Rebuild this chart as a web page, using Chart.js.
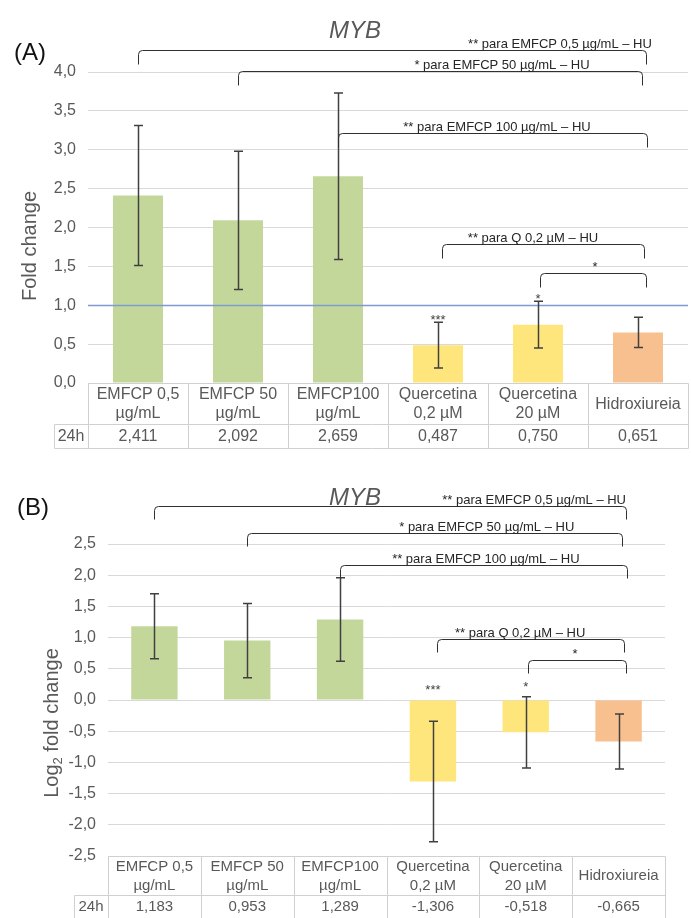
<!DOCTYPE html>
<html>
<head>
<meta charset="utf-8">
<script src="https://cdn.jsdelivr.net/npm/chart.js@4/dist/chart.umd.min.js"></script>
<style>
  html, body { margin: 0; padding: 0; background: #ffffff; }
  body { width: 691px; height: 918px; position: relative; overflow: hidden; }
  canvas { position: absolute; left: 0; }
  #chartA { top: 0; }
  #chartB { top: 460px; }
</style>
</head>
<body>
<canvas id="chartA" width="691" height="455"></canvas>
<canvas id="chartB" width="691" height="458"></canvas>
<script>
// ---- data ----
const categories = [
  ['EMFCP 0,5', 'µg/mL'],
  ['EMFCP 50', 'µg/mL'],
  ['EMFCP100', 'µg/mL'],
  ['Quercetina', '0,2 µM'],
  ['Quercetina', '20 µM'],
  ['Hidroxiureia']
];
const timePoint = '24h';

const foldChange      = [2.411, 2.092, 2.659, 0.487, 0.750, 0.651];
const foldChangeError = [0.90, 0.89, 1.07, 0.295, 0.30, 0.195];

const log2FoldChange      = [1.183, 0.953, 1.289, -1.306, -0.518, -0.665];
const log2FoldChangeError = [0.52, 0.595, 0.67, 0.965, 0.57, 0.44];

// significance versus control, per category
const significance = ['', '', '', '***', '*', ''];

// pairwise comparisons against hydroxyurea (category indices, bracket level in axis units)
const comparisonLabels = [
  '** para EMFCP 0,5 µg/mL – HU',
  '* para EMFCP 50 µg/mL – HU',
  '** para EMFCP 100 µg/mL – HU',
  '** para Q 0,2 µM – HU',
  '*'
];
const comparisonFrom = [0, 1, 2, 3.04, 4.02];
const comparisonTo   = [5.08, 5.04, 5.09, 5.06, 5.08];
const levelsA   = [4.28, 4.01, 3.21, 1.79, 1.42];
const labelAtA  = [4.22, 3.64, 3.59, 3.95, 4.57];
const levelsB   = [3.108, 2.669, 2.159, 0.981, 0.643];
const labelAtB  = [4.09, 3.58, 3.57, 3.94, 4.53];

const axisA = { min: 0, max: 4, step: 0.5 };
const axisB = { min: -2.5, max: 2.5, step: 0.5 };

// ---- styling ----
const FONT = '"Liberation Sans", Arial, sans-serif';
const GREY = '#595959';
const barColors = ['#c4d79b', '#c4d79b', '#c4d79b', '#ffe67c', '#ffe67c', '#f9c08f'];

const fmt = (v, d) => v.toFixed(d).replace('.', ',');

const panelDecor = {
  id: 'panelDecor',
  afterDatasetsDraw(chart, args, o) {
    const { ctx, chartArea: ca } = chart;
    const xs = chart.scales.x, ys = chart.scales.y;
    const meta = chart.getDatasetMeta(0);
    const values = chart.data.datasets[0].data;
    ctx.save();

    // reference line (fold change = 1)
    if (o.refLine !== undefined) {
      const ry = Math.round(ys.getPixelForValue(o.refLine)) + 0.5;
      ctx.strokeStyle = '#7f9ad0';
      ctx.lineWidth = 1.3;
      ctx.beginPath(); ctx.moveTo(ca.left, ry); ctx.lineTo(ca.right, ry); ctx.stroke();
    }

    // error bars
    ctx.strokeStyle = '#404040';
    ctx.lineWidth = 1.5;
    values.forEach((v, i) => {
      const e = o.errors[i];
      const bx = Math.round(meta.data[i].x) + 0.5;
      const yt = ys.getPixelForValue(v + e), yb = ys.getPixelForValue(v - e);
      ctx.beginPath();
      ctx.moveTo(bx, yt); ctx.lineTo(bx, yb);
      ctx.moveTo(bx - 4.5, yt); ctx.lineTo(bx + 4.5, yt);
      ctx.moveTo(bx - 4.5, yb); ctx.lineTo(bx + 4.5, yb);
      ctx.stroke();
    });

    // significance marks over bars
    ctx.fillStyle = '#404040';
    ctx.font = '13px ' + FONT;
    ctx.textAlign = 'center';
    ctx.textBaseline = 'alphabetic';
    values.forEach((v, i) => {
      if (!o.marks[i]) return;
      const top = Math.max(0, v + o.errors[i]);
      const cy = ys.getPixelForValue(top) - o.markGap;
      ctx.fillText(o.marks[i], meta.data[i].x, cy + 7.4);
    });

    // comparison brackets
    ctx.strokeStyle = '#303030';
    ctx.lineWidth = 1;
    ctx.fillStyle = '#262626';
    ctx.font = '13px ' + FONT;
    o.labels.forEach((txt, k) => {
      const x1 = Math.round(xs.getPixelForValue(o.from[k])) + 0.5;
      const x2 = Math.round(xs.getPixelForValue(o.to[k])) + 0.5;
      const yl = Math.round(ys.getPixelForValue(o.levels[k])) + 0.5;
      const drop = o.drop, r = 4;
      ctx.beginPath();
      ctx.moveTo(x1, yl + drop);
      ctx.lineTo(x1, yl + r);
      ctx.quadraticCurveTo(x1, yl, x1 + r, yl);
      ctx.lineTo(x2 - r, yl);
      ctx.quadraticCurveTo(x2, yl, x2, yl + r);
      ctx.lineTo(x2, yl + drop);
      ctx.stroke();
      ctx.textAlign = 'center';
      ctx.fillText(txt, xs.getPixelForValue(o.labelAt[k]), yl - 3);
    });

    // data table under the plot
    const n = values.length;
    const colW = (ca.right - ca.left) / n;
    const t0 = ca.bottom, t1 = t0 + o.row1, t2 = t1 + o.row2;
    const lx = ca.left - o.headW;
    const px = v => Math.round(v) + 0.5;
    ctx.strokeStyle = '#d0d0d0';
    ctx.lineWidth = 1;
    ctx.beginPath();
    ctx.moveTo(px(ca.left), px(t0)); ctx.lineTo(px(ca.right), px(t0));
    ctx.moveTo(px(lx), px(t1)); ctx.lineTo(px(ca.right), px(t1));
    ctx.moveTo(px(lx), px(t2)); ctx.lineTo(px(ca.right), px(t2));
    ctx.moveTo(px(lx), px(t1)); ctx.lineTo(px(lx), px(t2));
    for (let i = 0; i <= n; i++) {
      const cx = px(ca.left + i * colW);
      ctx.moveTo(cx, px(t0)); ctx.lineTo(cx, px(t2));
    }
    ctx.stroke();

    ctx.fillStyle = GREY;
    ctx.font = o.tableFont + 'px ' + FONT;
    ctx.textAlign = 'center';
    ctx.textBaseline = 'middle';
    const rowMid = (t0 + t1) / 2 + 1;
    categories.forEach((lines, i) => {
      const cx = ca.left + (i + 0.5) * colW;
      if (lines.length === 1) {
        ctx.fillText(lines[0], cx, rowMid);
      } else {
        ctx.fillText(lines[0], cx, rowMid - o.lineGap / 2);
        ctx.fillText(lines[1], cx, rowMid + o.lineGap / 2);
      }
      ctx.fillText(fmt(values[i], 3), cx, (t1 + t2) / 2 + 1);
    });
    ctx.fillText(timePoint, lx + o.headW / 2, (t1 + t2) / 2 + 1);

    // panel letter and title
    ctx.fillStyle = '#111111';
    ctx.font = '24px ' + FONT;
    ctx.textAlign = 'left';
    ctx.fillText(o.panel, o.panelX, o.panelY);
    ctx.fillStyle = GREY;
    ctx.font = 'italic 24px ' + FONT;
    ctx.textAlign = 'center';
    ctx.fillText('MYB', 355, o.titleY);

    // vertical axis title
    ctx.translate(o.axisTitleX, o.axisTitleY);
    ctx.rotate(-Math.PI / 2);
    ctx.fillStyle = GREY;
    ctx.textAlign = 'left';
    ctx.textBaseline = 'middle';
    const big = '20px ' + FONT, small = '13px ' + FONT;
    const parts = o.axisTitle;
    let total = 0;
    parts.forEach(p => { ctx.font = p.sub ? small : big; total += ctx.measureText(p.t).width; });
    let cx = -total / 2;
    parts.forEach(p => {
      ctx.font = p.sub ? small : big;
      ctx.fillText(p.t, cx, p.sub ? 6 : 0);
      cx += ctx.measureText(p.t).width;
    });
    ctx.restore();
  }
};

function makeChart(id, values, errors, axis, deco, layout) {
  return new Chart(document.getElementById(id), {
    type: 'bar',
    data: {
      labels: categories.map(c => c.join(' ')),
      datasets: [{
        data: values,
        backgroundColor: barColors,
        borderWidth: 0,
        categoryPercentage: 1,
        barPercentage: 0.5
      }]
    },
    options: {
      responsive: false,
      animation: false,
      devicePixelRatio: 1,
      layout: { padding: layout.padding },
      plugins: {
        legend: { display: false },
        tooltip: { enabled: false },
        panelDecor: Object.assign({ errors }, deco)
      },
      scales: {
        x: { display: false },
        y: {
          min: axis.min, max: axis.max,
          afterFit: s => { s.width = layout.axisWidth; },
          border: { display: false },
          grid: { color: '#d9d9d9', lineWidth: 1, drawTicks: false },
          ticks: {
            stepSize: axis.step,
            padding: 12,
            color: GREY,
            font: { size: 16, family: FONT },
            callback: v => fmt(v, 1)
          }
        }
      }
    },
    plugins: [panelDecor]
  });
}

Chart.defaults.font.family = FONT;

makeChart('chartA', foldChange, foldChangeError, axisA, {
  refLine: 1,
  marks: significance, markGap: 6,
  labels: comparisonLabels, from: comparisonFrom, to: comparisonTo,
  levels: levelsA, labelAt: labelAtA, drop: 14,
  row1: 41, row2: 24, headW: 34, tableFont: 16, lineGap: 19,
  panel: '(A)', panelX: 14, panelY: 53, titleY: 31,
  axisTitle: [{ t: 'Fold change' }], axisTitleX: 30, axisTitleY: 246
}, { padding: { top: 72, right: 3, bottom: 72, left: 0 }, axisWidth: 88 });

makeChart('chartB', log2FoldChange, log2FoldChangeError, axisB, {
  marks: significance, markGap: 13,
  labels: comparisonLabels, from: comparisonFrom, to: comparisonTo,
  levels: levelsB, labelAt: labelAtB, drop: 13,
  row1: 38.6, row2: 23.4, headW: 34, tableFont: 15, lineGap: 18.3,
  panel: '(B)', panelX: 17, panelY: 48, titleY: 38,
  axisTitle: [{ t: 'Log' }, { t: '2', sub: true }, { t: ' fold change' }], axisTitleX: 52, axisTitleY: 263
}, { padding: { top: 84, right: 26, bottom: 62, left: 0 }, axisWidth: 108 });
</script>
</body>
</html>
